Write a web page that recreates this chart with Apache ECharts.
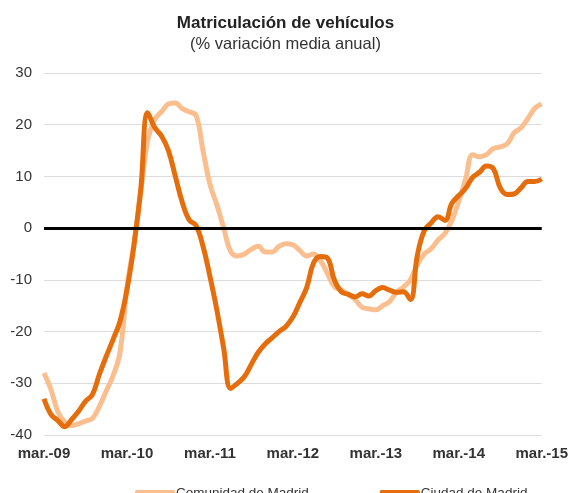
<!DOCTYPE html>
<html>
<head>
<meta charset="utf-8">
<script src="https://cdn.jsdelivr.net/npm/echarts@6/dist/echarts.min.js"></script>
<style>
html,body{margin:0;padding:0;background:#fff;}
#myChart{width:571px;height:493px;}
</style>
</head>
<body>
<div id="myChart"></div>
<script>
// meses de mar.-09 a mar.-15
var meses = ['ene.','feb.','mar.','abr.','may.','jun.','jul.','ago.','sep.','oct.','nov.','dic.'];
var categorias = [];
for (var k = 0; k < 73; k++) {
	var m = (2 + k) % 12;
	var a = 9 + Math.floor((2 + k) / 12);
	categorias.push(meses[m] + '-' + (a < 10 ? '0' + a : a));
}

var comunidad = [
	-28, -31.2, -35.5, -37.5, -38.2, -37.8, -37.3, -36.8, -34.5, -31.5, -28.5, -24,
	-11.5, -3, 7, 17, 21, 22.5, 24, 24.2, 23.1, 22.5, 21.8, 15,
	8.5, 4.5, 0, -4.5, -5.4, -5, -4.1, -3.5, -4.6, -4.6, -3.5, -3,
	-3.2, -4.3, -5.4, -5, -6.3, -8.8, -11.3, -11.9, -12.8, -13.8, -15.3, -15.6,
	-15.8, -15, -14.2, -12.4, -11.4, -10, -7, -5, -4, -2.3, -1, 1.5,
	5.2, 9.5, 14.2, 13.8, 14.2, 15.4, 15.7, 16.3, 18.4, 19.4, 21.2, 23.2,
	24
];
var ciudad = [
	-33, -36, -37.2, -38.4, -37, -35.4, -33.5, -32.2, -28.3, -24.8, -21.5, -18,
	-11.9, -3.5, 7.5, 22.3, 19.5, 17.8, 15, 10, 5, 1.6, 0.5, -3.5,
	-9.3, -15.8, -23.3, -31, -30, -28.7, -26.3, -24, -22.4, -21.2, -20, -19,
	-17.2, -14.4, -11.5, -6.7, -5.5, -5.8, -10, -12.3, -12.8, -13.3, -12.7, -13.1,
	-12.1, -11.5, -12, -12.4, -12.3, -13.8, -5.3, -0.5, 1, 2.2, 1.5, 4.8,
	6.3, 7.7, 9.8, 10.8, 12, 11.5, 7.8, 6.5, 6.6, 7.8, 9, 9,
	9.5
];

var option = {
	animation: false,
	title: {
		text: 'Matriculación de vehículos',
		subtext: '(% variación media anual)',
		left: 'center',
		top: 10,
		itemGap: 4,
		textStyle: {fontFamily: 'Liberation Sans', fontSize: 17, fontWeight: 'bold', color: '#222'},
		subtextStyle: {fontFamily: 'Liberation Sans', fontSize: 16.5, color: '#333'}
	},
	legend: {
		left: 130,
		top: 481,
		itemGap: 71,
		itemWidth: 40,
		itemHeight: 6,
		icon: 'roundRect',
		textStyle: {fontFamily: 'Liberation Sans', fontSize: 13.5, color: '#333', padding: [0, 0, 0, -4]},
		data: ['Comunidad de Madrid', 'Ciudad de Madrid']
	},
	grid: {left: 44, right: 23, top: 73, bottom: 58},
	xAxis: {
		type: 'category',
		data: categorias,
		boundaryGap: false,
		axisLine: {show: false},
		axisTick: {show: false},
		axisLabel: {interval: 11, margin: 11, fontFamily: 'Liberation Sans', fontSize: 15, fontWeight: 'bold', color: '#333'}
	},
	yAxis: {
		type: 'value',
		min: -40,
		max: 30,
		interval: 10,
		axisLine: {show: false},
		axisTick: {show: false},
		axisLabel: {margin: 12, fontFamily: 'Liberation Sans', fontSize: 15, color: '#333'},
		splitLine: {lineStyle: {color: '#dcdcdc', width: 1}}
	},
	series: [{
		name: 'Comunidad de Madrid',
		type: 'line',
		data: comunidad,
		smooth: 0.4,
		symbol: 'none',
		itemStyle: {color: '#fbbf8f'},
		lineStyle: {color: '#fbbf8f', width: 5}
	}, {
		name: 'Ciudad de Madrid',
		type: 'line',
		data: ciudad,
		smooth: 0.4,
		symbol: 'none',
		itemStyle: {color: '#e56d0b'},
		lineStyle: {color: '#e56d0b', width: 5},
		markLine: {
			silent: true,
			symbol: 'none',
			label: {show: false},
			lineStyle: {color: '#000', width: 3, type: 'solid'},
			data: [{yAxis: 0}]
		}
	}]
};
echarts.init(document.getElementById('myChart')).setOption(option);
</script>
</body>
</html>
